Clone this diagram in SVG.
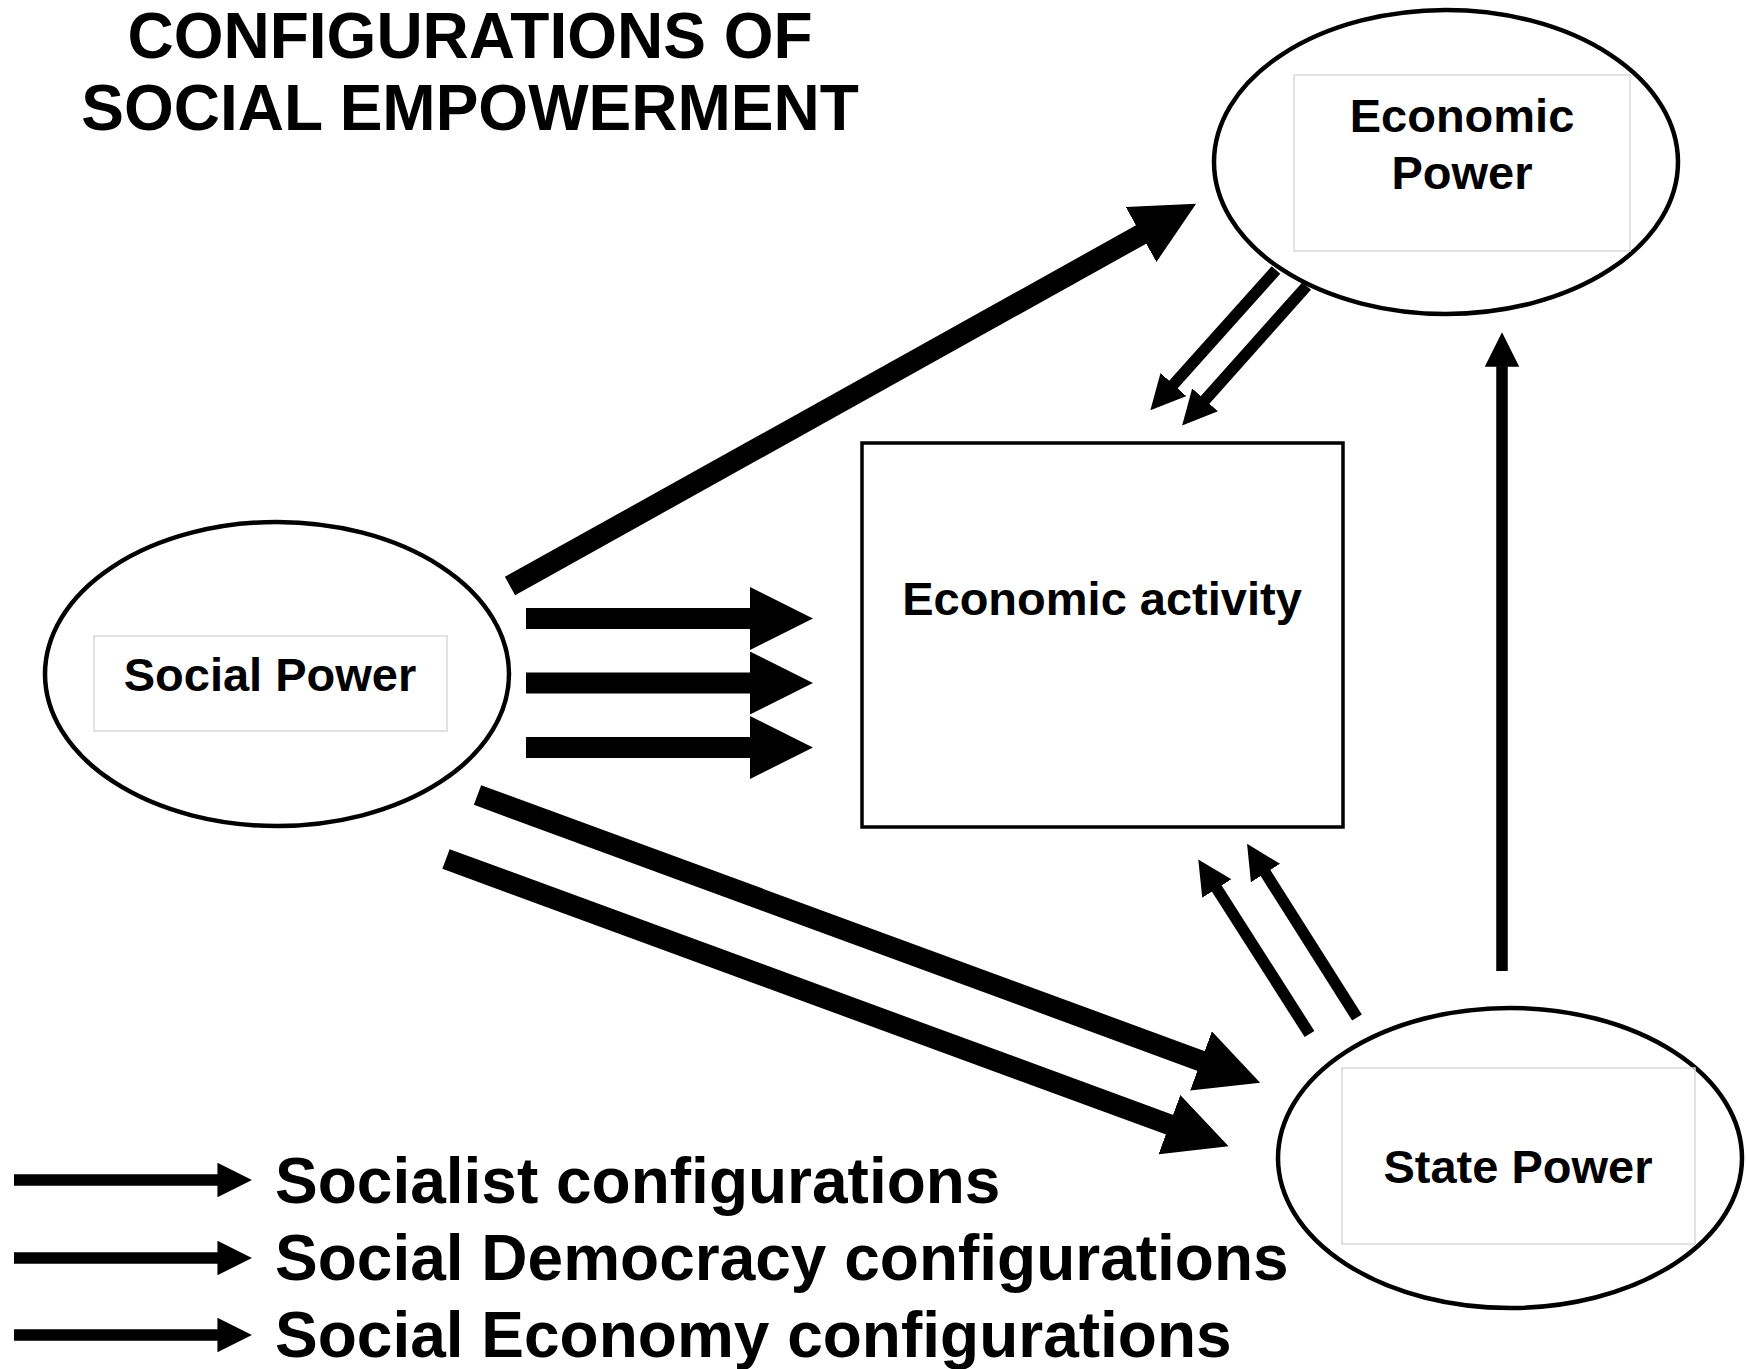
<svg xmlns="http://www.w3.org/2000/svg" width="1747" height="1369" viewBox="0 0 1747 1369">
<style>
  .title{font-family:"Liberation Sans",Arial,sans-serif;font-weight:bold;font-size:64px;fill:#000;text-anchor:middle}
  .lbl{font-family:"Liberation Sans",Arial,sans-serif;font-weight:bold;font-size:47px;fill:#000;text-anchor:middle}
  .leg{font-family:"Liberation Sans",Arial,sans-serif;font-weight:bold;font-size:64px;fill:#000}
  .ell{fill:#fff;stroke:#000;stroke-width:4.5}
  .inner{fill:none;stroke:#d9d9d9;stroke-width:1.5}
  .box{fill:#fff;stroke:#000;stroke-width:3.5}
  .thick{stroke:#000;stroke-width:21;fill:none;marker-end:url(#ah)}
  .thin{stroke:#000;stroke-width:11.5;fill:none;marker-end:url(#ah)}
</style>
<defs>
  <marker id="ah" viewBox="0 0 3 3" refX="0.05" refY="1.5" markerWidth="3" markerHeight="3" markerUnits="strokeWidth" orient="auto">
    <path d="M0,0 L3,1.5 L0,3 Z" fill="#000"/>
  </marker>
</defs>
<rect width="1747" height="1369" fill="#fff"/>
<g id="title">
  <text class="title" x="470" y="58">CONFIGURATIONS OF</text>
  <text class="title" x="470" y="130">SOCIAL EMPOWERMENT</text>
</g>
<g id="economic-power">
  <ellipse class="ell" cx="1446" cy="162" rx="232" ry="152"/>
  <rect class="inner" x="1294" y="75" width="336" height="176"/>
  <text class="lbl" x="1462" y="132">Economic</text>
  <text class="lbl" x="1462" y="189">Power</text>
</g>
<g id="social-power">
  <ellipse class="ell" cx="277" cy="674" rx="232" ry="152"/>
  <rect class="inner" x="94" y="636" width="353" height="95"/>
  <text class="lbl" x="270" y="691">Social Power</text>
</g>
<g id="state-power">
  <ellipse class="ell" cx="1510" cy="1158" rx="232" ry="150"/>
  <rect class="inner" x="1342" y="1068" width="353" height="176"/>
  <text class="lbl" x="1518" y="1183">State Power</text>
</g>
<g id="economic-activity">
  <rect class="box" x="862" y="443" width="481" height="384"/>
  <text class="lbl" x="1102" y="615">Economic activity</text>
</g>
<g id="connectors">
  <line class="thick" x1="510" y1="586" x2="1142" y2="234"/>
  <line class="thick" x1="526" y1="618.5" x2="751" y2="618.5"/>
  <line class="thick" x1="526" y1="683" x2="751" y2="683"/>
  <line class="thick" x1="526" y1="747.5" x2="751" y2="747.5"/>
  <line class="thick" x1="477.5" y1="795" x2="1202" y2="1061.3"/>
  <line class="thick" x1="446" y1="859" x2="1170.4" y2="1125"/>
  <line class="thin" x1="1276" y1="270" x2="1173" y2="385"/>
  <line class="thin" x1="1306.7" y1="286" x2="1204.7" y2="400.3"/>
  <line class="thin" x1="1309.5" y1="1034" x2="1216.5" y2="888.1"/>
  <line class="thin" x1="1357" y1="1017.5" x2="1265.2" y2="872.5"/>
  <line class="thin" x1="1502" y1="971" x2="1502" y2="366.2"/>
</g>
<g id="legend">
  <line class="thin" x1="14" y1="1180" x2="218" y2="1180"/>
  <line class="thin" x1="14" y1="1258" x2="218" y2="1258"/>
  <line class="thin" x1="14" y1="1335" x2="218" y2="1335"/>
  <text class="leg" x="275" y="1203">Socialist configurations</text>
  <text class="leg" x="275" y="1280">Social Democracy configurations</text>
  <text class="leg" x="275" y="1357">Social Economy configurations</text>
</g>
</svg>
